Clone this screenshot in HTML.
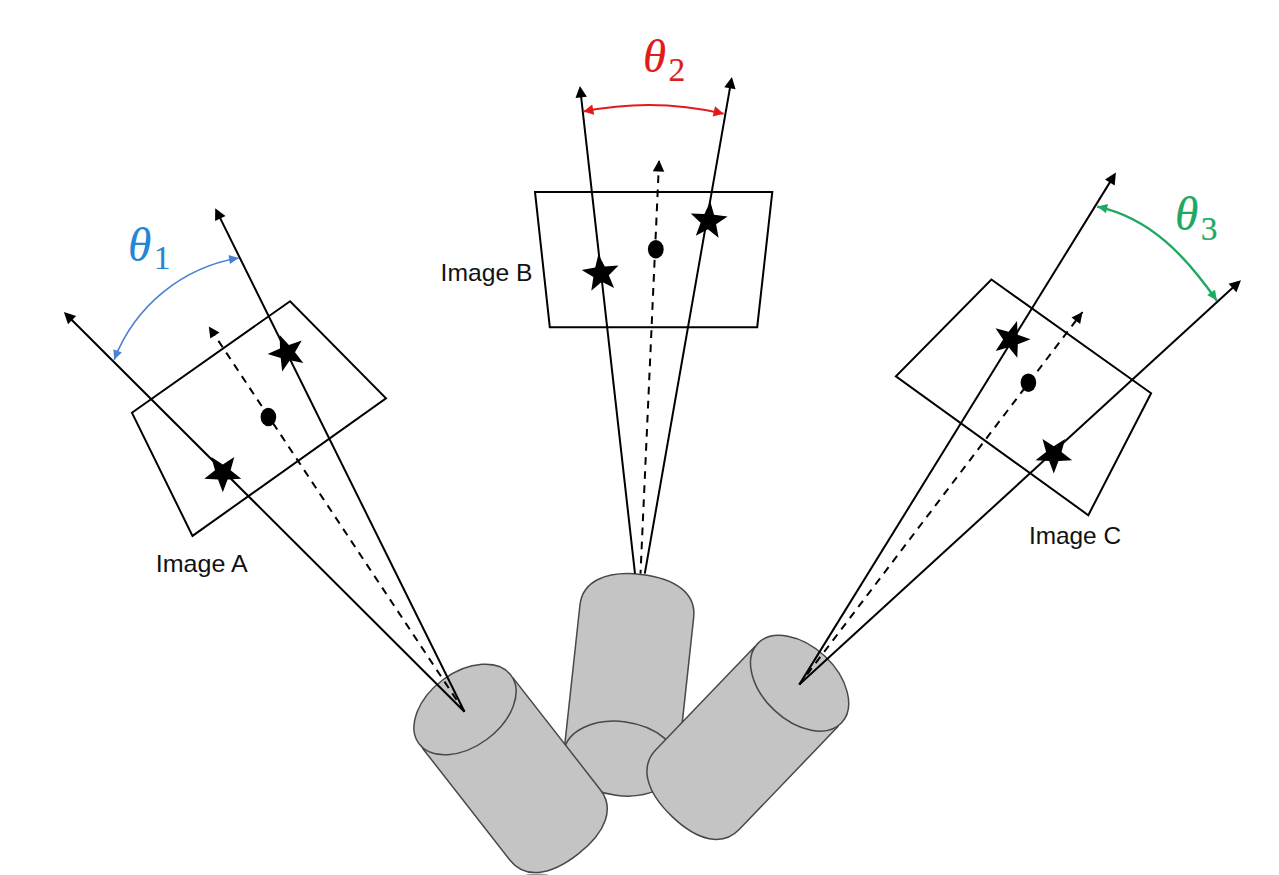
<!DOCTYPE html>
<html lang="en">
<head>
<meta charset="utf-8">
<title>Camera viewing angles</title>
<style>
html,body{margin:0;padding:0;background:#fff;}
body{width:1279px;height:875px;overflow:hidden;}
svg{display:block;}
</style>
</head>
<body>
<svg width="1279" height="875" viewBox="0 0 1279 875">
<rect x="0" y="0" width="1279" height="875" fill="#ffffff"/>
<!-- cameras -->
<g transform="translate(620.8 758.6) rotate(-83.8)"><path d="M0,-57.2 L148.3,-57.2 C171.6,-57.2 185.3,-36 185.3,0 C185.3,36 171.6,57.2 148.3,57.2 L0,57.2 Z" fill="#c4c4c4"/><path d="M4,-57.2 L148.3,-57.2 C171.6,-57.2 185.3,-36 185.3,0 C185.3,36 171.6,57.2 148.3,57.2 L4,57.2" fill="none" stroke="#484848" stroke-width="1.5"/><ellipse cx="0" cy="0" rx="37" ry="57.2" transform="rotate(1.5)" fill="#c4c4c4" stroke="#484848" stroke-width="1.5"/></g>
<g transform="translate(465 709.5) rotate(52)"><path d="M0,-57.3 L146.5,-57.3 C169.8,-57.3 183.5,-36.1 183.5,0 C183.5,36.1 169.8,57.3 146.5,57.3 L0,57.3 Z" fill="#c4c4c4"/><path d="M4,-57.3 L146.5,-57.3 C169.8,-57.3 183.5,-36.1 183.5,0 C183.5,36.1 169.8,57.3 146.5,57.3 L4,57.3" fill="none" stroke="#484848" stroke-width="1.5"/><ellipse cx="0" cy="0" rx="37" ry="57.3" transform="rotate(1.5)" fill="#c4c4c4" stroke="#484848" stroke-width="1.5"/></g>
<g transform="translate(799.6 683.2) rotate(133.8)"><path d="M0,-57.7 L147.5,-57.7 C170.8,-57.7 184.5,-36.4 184.5,0 C184.5,36.4 170.8,57.7 147.5,57.7 L0,57.7 Z" fill="#c4c4c4"/><path d="M4,-57.7 L147.5,-57.7 C170.8,-57.7 184.5,-36.4 184.5,0 C184.5,36.4 170.8,57.7 147.5,57.7 L4,57.7" fill="none" stroke="#484848" stroke-width="1.5"/><ellipse cx="0" cy="0" rx="37" ry="57.7" transform="rotate(-0.5)" fill="#c4c4c4" stroke="#484848" stroke-width="1.5"/></g>
<ellipse cx="537" cy="875.6" rx="13" ry="2" fill="#9a9a9a"/>
<!-- image A -->
<polygon points="131.9,412.7 290.1,301.2 386,398.4 192.5,535.9" fill="none" stroke="#000" stroke-width="2.0" stroke-linejoin="miter"/>
<line x1="464.5" y1="711.8" x2="69.6" y2="317.7" stroke="#000" stroke-width="2.0"/><polygon points="63.9,312 76.1,316.1 68,324.2" fill="#000"/>
<line x1="464.5" y1="711.8" x2="218.8" y2="215.4" stroke="#000" stroke-width="2.0"/><polygon points="215.2,208.2 225.5,216 215.1,221.1" fill="#000"/>
<line x1="208.8" y1="326.4" x2="464.5" y2="711.8" stroke="#000" stroke-width="2.0" stroke-dasharray="7.7 6.4" stroke-dashoffset="-3.3"/><polygon points="208.8,326.4 219.5,332.5 210.3,338.6" fill="#000"/>
<polygon points="279.7,334.9 288.9,344.9 301.7,340.4 295,352.2 303.3,363 289.9,360.3 282.2,371.5 280.7,358 267.6,354.1 280,348.5" fill="#000"/>
<polygon points="234.3,457 230.6,470.3 241.3,478.8 227.6,479.4 222.8,492.3 218,479.4 204.3,478.8 215,470.3 211.3,457 222.8,464.6" fill="#000"/>
<ellipse cx="268.4" cy="417" rx="7.8" ry="9.3" fill="#000"/>
<path d="M114.2,359.7 A162,162 0 0 1 238.6,258" fill="none" stroke="#4a7fd4" stroke-width="1.6"/><polygon points="114.2,359.7 113.4,349.2 121.8,352.4" fill="#4a7fd4"/><polygon points="238.6,258 230,264 228.5,255.1" fill="#4a7fd4"/>
<text x="128" y="260.5" fill="#2487d3" stroke="#2487d3" stroke-width="0.1" font-family="'Liberation Serif', 'DejaVu Serif', serif" font-style="italic" font-size="47.5">θ<tspan font-style="normal" font-size="33.5" dx="2.5" dy="8.7">1</tspan></text>
<text x="155.7" y="572.3" fill="#111" font-family="'Liberation Sans', sans-serif" font-size="23.6" textLength="92" lengthAdjust="spacingAndGlyphs">Image A</text>
<!-- image B -->
<polygon points="535,191.9 772.3,191.9 757.2,327.2 549.8,327.2" fill="none" stroke="#000" stroke-width="2.0" stroke-linejoin="miter"/>
<line x1="635" y1="573.6" x2="580.8" y2="94" stroke="#000" stroke-width="2.0"/><polygon points="579.9,86 586.9,96.8 575.5,98.1" fill="#000"/>
<line x1="644.8" y1="573.6" x2="730.5" y2="84.8" stroke="#000" stroke-width="2.0"/><polygon points="731.9,76.9 735.6,89.2 724.3,87.2" fill="#000"/>
<line x1="659.1" y1="160.1" x2="640.5" y2="573.6" stroke="#000" stroke-width="2.0" stroke-dasharray="7.7 6.4" stroke-dashoffset="-1.2"/><polygon points="659.1,160.1 664.3,171.8 652.8,171.3" fill="#000"/>
<polygon points="598.4,254.2 604.8,266.4 618.5,265.4 608.8,275.2 614.1,287.9 601.8,281.7 591.3,290.7 593.4,277.1 581.7,269.9 595.2,267.6" fill="#000"/>
<polygon points="710.3,201.6 714,214.8 727.6,216.6 716.1,224.2 718.6,237.7 707.9,229.2 695.8,235.7 700.6,222.8 690.7,213.4 704.4,214" fill="#000"/>
<ellipse cx="655.8" cy="249.2" rx="7.9" ry="9.2" fill="#000"/>
<path d="M583.4,111.5 A330,330 0 0 1 723.6,113.7" fill="none" stroke="#e01b1b" stroke-width="2.1"/><polygon points="583.4,111.5 592.2,104.4 594.2,114.7" fill="#e01b1b"/><polygon points="723.6,113.7 712.7,116.5 715.1,106.3" fill="#e01b1b"/>
<text x="643" y="72" fill="#e01b1b" stroke="#e01b1b" stroke-width="0.2" font-family="'Liberation Serif', 'DejaVu Serif', serif" font-style="italic" font-size="47">θ<tspan font-style="normal" font-size="33.5" dx="2.5" dy="9">2</tspan></text>
<text x="440.6" y="280.5" fill="#111" font-family="'Liberation Sans', sans-serif" font-size="23.6" textLength="91.8" lengthAdjust="spacingAndGlyphs">Image B</text>
<!-- image C -->
<polygon points="991.4,279.5 1151.1,393.3 1088.3,515.2 895.9,376.4" fill="none" stroke="#000" stroke-width="2.0" stroke-linejoin="miter"/>
<line x1="799.3" y1="684.6" x2="1111.7" y2="179.4" stroke="#000" stroke-width="2.0"/><polygon points="1115.9,172.6 1114.7,185.4 1105,179.4" fill="#000"/>
<line x1="799.3" y1="684.6" x2="1235.1" y2="285.6" stroke="#000" stroke-width="2.0"/><polygon points="1241,280.2 1236.4,292.2 1228.6,283.7" fill="#000"/>
<line x1="1082.5" y1="312" x2="799.3" y2="684.6" stroke="#000" stroke-width="2.0" stroke-dasharray="7.7 6.4" stroke-dashoffset="-10.3"/><polygon points="1082.5,312 1080.2,324.1 1071.5,317.4" fill="#000"/>
<polygon points="1017,321.1 1017.7,334.7 1030.5,339.3 1017.8,344.2 1017.3,357.8 1008.8,347.2 995.7,351 1003.1,339.6 995.5,328.3 1008.6,331.8" fill="#000"/>
<polygon points="1065.1,438.9 1061.5,451.9 1072.1,460.3 1058.5,460.9 1053.8,473.6 1049.1,460.9 1035.5,460.3 1046.1,451.9 1042.5,438.9 1053.8,446.3" fill="#000"/>
<ellipse cx="1028.4" cy="382.7" rx="7.8" ry="9.3" fill="#000"/>
<path d="M1097.2,206.6 C1151,218 1186.4,257.2 1216.8,300.6" fill="none" stroke="#1fa862" stroke-width="2.4"/><polygon points="1097.2,206.6 1108,204 1106,213.3" fill="#1fa862"/><polygon points="1216.8,300.6 1207.2,295.1 1215,289.7" fill="#1fa862"/>
<text x="1175" y="230" fill="#1fa862" stroke="#1fa862" stroke-width="0.2" font-family="'Liberation Serif', 'DejaVu Serif', serif" font-style="italic" font-size="47.5">θ<tspan font-style="normal" font-size="33.5" dx="2.5" dy="9.5">3</tspan></text>
<text x="1028.9" y="544" fill="#111" font-family="'Liberation Sans', sans-serif" font-size="23.6" textLength="92.2" lengthAdjust="spacingAndGlyphs">Image C</text>
</svg>
</body>
</html>
